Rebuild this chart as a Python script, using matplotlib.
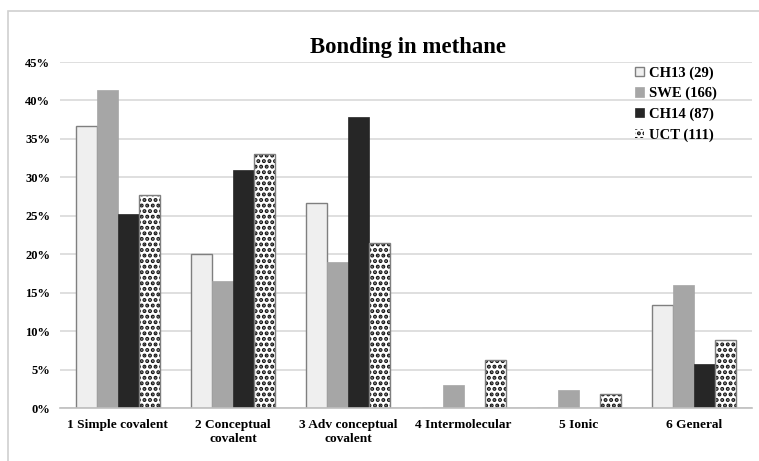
import numpy as np
import matplotlib.pyplot as plt
from matplotlib.patches import Rectangle
from matplotlib.ticker import PercentFormatter

categories = ["1 Simple covalent", "2 Conceptual\ncovalent", "3 Adv conceptual\ncovalent",
              "4 Intermolecular", "5 Ionic", "6 General"]
series = ["CH13 (29)", "SWE (166)", "CH14 (87)", "UCT (111)"]
ch13 = [0.367, 0.200, 0.266, 0.0, 0.0, 0.134]
swe = [0.414, 0.165, 0.190, 0.030, 0.024, 0.160]
ch14 = [0.252, 0.310, 0.379, 0.0, 0.0, 0.057]
uct = [0.277, 0.330, 0.214, 0.063, 0.018, 0.089]

plt.rcParams['font.family'] = ['Liberation Serif', 'DejaVu Serif']
plt.rcParams['font.weight'] = 'bold'
plt.rcParams['hatch.linewidth'] = 2.0

fig = plt.figure(figsize=(7.59, 4.61), dpi=100)
W, H = 759, 461
ax = fig.add_axes([60 / W, (H - 408) / H, (752 - 60) / W, (408 - 62) / H])

# chart frame (only top and left edges fall inside the image)
fig.patches.append(Rectangle((8 / W, -0.1), 1.2, (H - 11) / H + 0.1,
                             transform=fig.transFigure, fill=False,
                             edgecolor='#d0d0d0', linewidth=1.2, zorder=0))

x = np.arange(len(categories))
w = 0.182
styles = [
    dict(color='#efefef', edgecolor='#7f7f7f', linewidth=1.0),
    dict(color='#a6a6a6', edgecolor='#a6a6a6', linewidth=0.5),
    dict(color='#262626', edgecolor='#262626', linewidth=0.5),
    dict(color='white', edgecolor='#111111', hatch='...', linewidth=0.0),
]
for i, (vals, name, st) in enumerate(zip([ch13, swe, ch14, uct], series, styles)):
    pos = x + (i - 1.5) * w
    bars = ax.bar(pos, vals, w, label=name, zorder=3, **st)
    if i == 3:
        # gray outline around the dotted bars
        for b, v in zip(bars, vals):
            if v > 0:
                ax.add_patch(Rectangle((b.get_x(), 0), w, v, fill=False,
                                       edgecolor='#7f7f7f', linewidth=1.0, zorder=4))

ax.set_xlim(-0.5, len(categories) - 0.5)
ax.set_ylim(0, 0.45)
ax.set_yticks(np.arange(0, 0.451, 0.05))
ax.yaxis.set_major_formatter(PercentFormatter(1.0, decimals=0))
ax.set_xticks(x)
ax.set_xticklabels(categories, fontsize=9.6, fontweight='bold', linespacing=1.25)
ax.tick_params(axis='y', labelsize=9, length=0, pad=7)
ax.tick_params(axis='x', length=0, pad=8)
ax.grid(axis='y', color='#d9d9d9', linewidth=1.2, zorder=0)
ax.set_axisbelow(True)
for s in ['top', 'right', 'left']:
    ax.spines[s].set_visible(False)
ax.spines['bottom'].set_color('#bfbfbf')
ax.spines['bottom'].set_linewidth(1.2)
ax.spines['bottom'].set_zorder(5)

fig.text(408 / W, (H - 47) / H, "Bonding in methane", ha='center', va='center',
         fontsize=16.4, fontweight='bold')

leg = ax.legend(loc='upper left', bbox_to_anchor=(0.823, 1.005), frameon=False,
                fontsize=10.5, handlelength=0.6, handleheight=0.6, handletextpad=0.35,
                labelspacing=0.5, borderaxespad=0)

fig.savefig("out.png", dpi=100)
